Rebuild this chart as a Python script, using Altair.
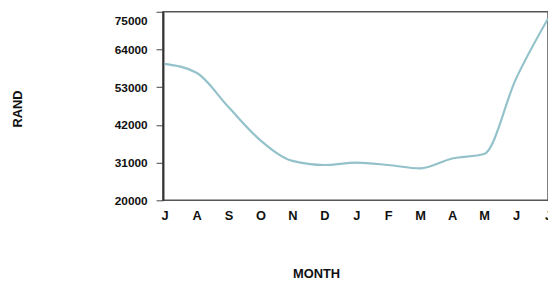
import altair as alt
import pandas as pd

months = ["J", "A", "S", "O", "N", "D", "J", "F", "M", "A", "M", "J", "J"]
rand = [59800, 57200, 47200, 37500, 31500, 30300, 31000, 30300, 29300, 32200, 33500, 55500, 73000]
y_ticks = [20000, 31000, 42000, 53000, 64000, 75000]

df = pd.DataFrame({"idx": list(range(len(months))), "month": months, "rand": rand})
label_arr = "[" + ",".join("'" + m + "'" for m in months) + "]"

font = "Liberation Sans"

chart = alt.Chart(df).mark_line(
    color="#93c2ca", strokeWidth=2.2, interpolate="monotone"
).encode(
    x=alt.X(
        "idx:Q",
        scale=alt.Scale(domain=[-0.05, 12], nice=False, zero=False),
        axis=alt.Axis(
            title="MONTH",
            values=list(range(len(months))),
            labelExpr=label_arr + "[datum.value]",
            ticks=False,
            domain=False,
            grid=False,
            labelPadding=9,
            labelFont=font,
            labelFontWeight="bold",
            labelFontSize=13,
            labelColor="#111",
            labelFlush=False,
            labelOverlap=False,
            titleFont=font,
            titleFontWeight="bold",
            titleFontSize=13,
            titleColor="#111",
            titleX=155,
            titleY=74,
            titleAlign="center",
            titleBaseline="middle",
        ),
    ),
    y=alt.Y(
        "rand:Q",
        scale=alt.Scale(domain=[20000, 75000], nice=False, zero=False),
        axis=alt.Axis(
            title="RAND",
            values=y_ticks,
            format="d",
            grid=False,
            domain=True,
            domainColor="#333",
            domainWidth=2,
            tickSize=7,
            tickColor="#444",
            labelPadding=9,
            labelOffset={"condition": {"test": "datum.value == 75000", "value": 9}, "value": 0},
            labelFont=font,
            labelFontWeight="bold",
            labelFontSize=12,
            labelColor="#111",
            titleFont=font,
            titleFontWeight="bold",
            titleFontSize=13,
            titleColor="#111",
            titleX=-147,
            titleY=98,
            titleAlign="center",
            titleBaseline="middle",
        ),
    ),
).properties(
    width=390,
    height=191,
    autosize=alt.AutoSizeParams(type="none"),
    padding={"left": 157, "top": 2, "right": 0, "bottom": 88},
).configure(
    background="white"
).configure_view(
    stroke="#555", strokeWidth=1.5
)

chart.save("out.html", embed_options={"renderer": "svg", "actions": False})
